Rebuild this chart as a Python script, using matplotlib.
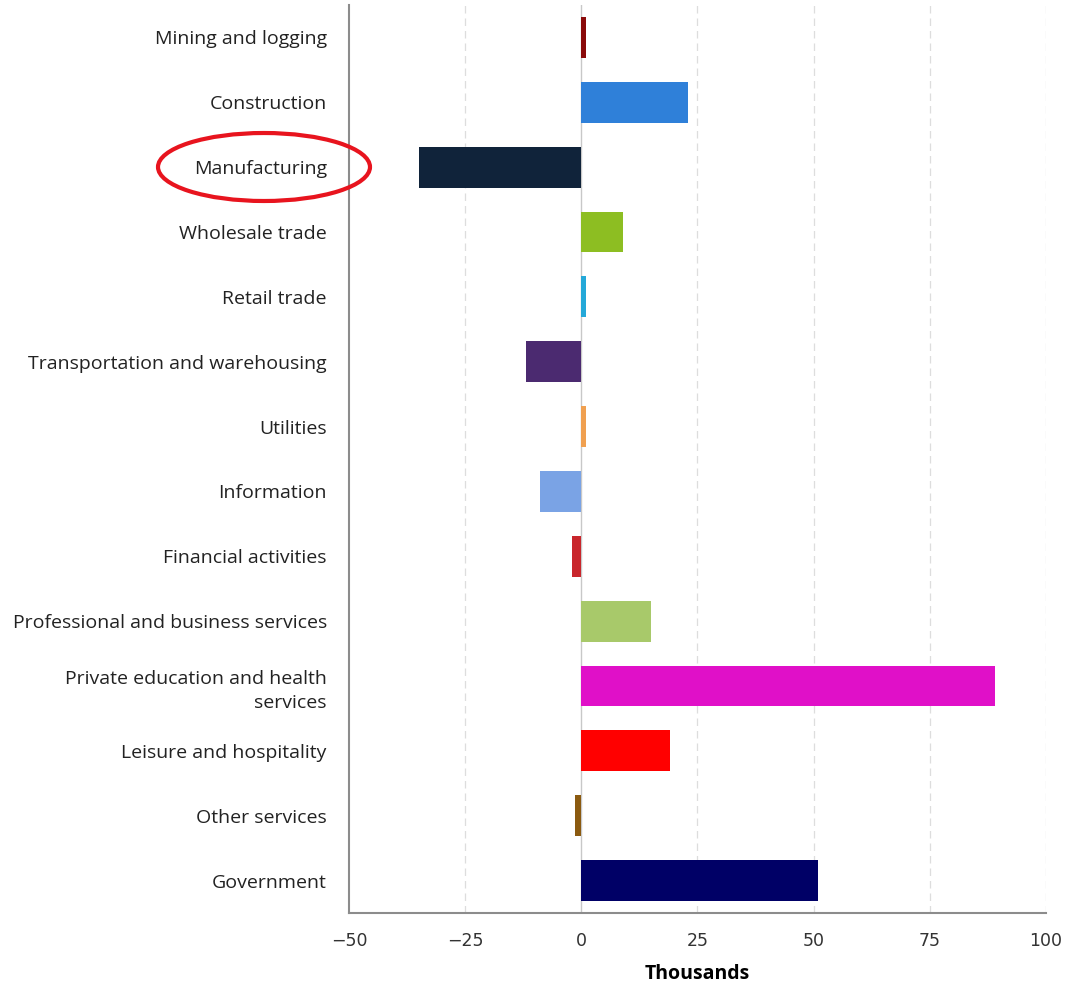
import matplotlib.pyplot as plt
from matplotlib.patches import Ellipse

categories = [
    "Mining and logging",
    "Construction",
    "Manufacturing",
    "Wholesale trade",
    "Retail trade",
    "Transportation and warehousing",
    "Utilities",
    "Information",
    "Financial activities",
    "Professional and business services",
    "Private education and health\nservices",
    "Leisure and hospitality",
    "Other services",
    "Government",
]
changes = [1, 23, -35, 9, 1, -12, 1, -9, -2, 15, 89, 19, -1.3, 51]
colors = [
    "#8a0a0a", "#2f80d9", "#10233a", "#8dbe22", "#24a8d8", "#4b2a70", "#f0a050",
    "#7aa3e5", "#c9262c", "#a8c96a", "#e010c8", "#ff0000", "#8b5a10", "#000066",
]
xticks = [-50, -25, 0, 25, 50, 75, 100]
xticklabels = ["\u221250", "\u221225", "0", "25", "50", "75", "100"]

fig = plt.figure(figsize=(10.66, 9.84), dpi=100)
ax = fig.add_axes([0.3274, 0.0722, 0.6538, 0.9227])

ypos = list(range(len(categories)))
ax.barh(ypos, changes, height=0.63, color=colors, zorder=3)
ax.set_ylim(len(categories) - 0.5, -0.5)
ax.set_xlim(-50, 100)

ax.set_xticks(xticks)
ax.set_xticklabels(xticklabels, family=["Liberation Sans Narrow", "DejaVu Sans"],
                   fontsize=12.5, color="#333333")
ax.set_yticks(ypos)
ax.set_yticklabels(categories, family="Open Sans", fontsize=14, color="#222222",
                   linespacing=1.45)
ax.tick_params(axis="x", length=0, pad=14)
ax.tick_params(axis="y", length=0, pad=16)

for x in xticks[1:]:
    if x == 0:
        ax.axvline(0, color="#c8c8c8", lw=1, zorder=2)
    else:
        ax.axvline(x, color="#dddddd", lw=0.9, ls=(0, (6, 4)), zorder=1)

for side in ["top", "right"]:
    ax.spines[side].set_visible(False)
for side in ["left", "bottom"]:
    ax.spines[side].set_color("#8c8c8c")
    ax.spines[side].set_linewidth(1.5)

ax.set_xlabel("Thousands", family="Open Sans", fontsize=14, fontweight="bold", labelpad=10)

# hand-drawn circle around Manufacturing
circ = Ellipse((264 / 1066, 1 - 167 / 984), 212 / 1066, 68 / 984,
               transform=fig.transFigure, fill=False, edgecolor="#e8141e", lw=3)
fig.patches.append(circ)

fig.savefig("out.png", dpi=100)
